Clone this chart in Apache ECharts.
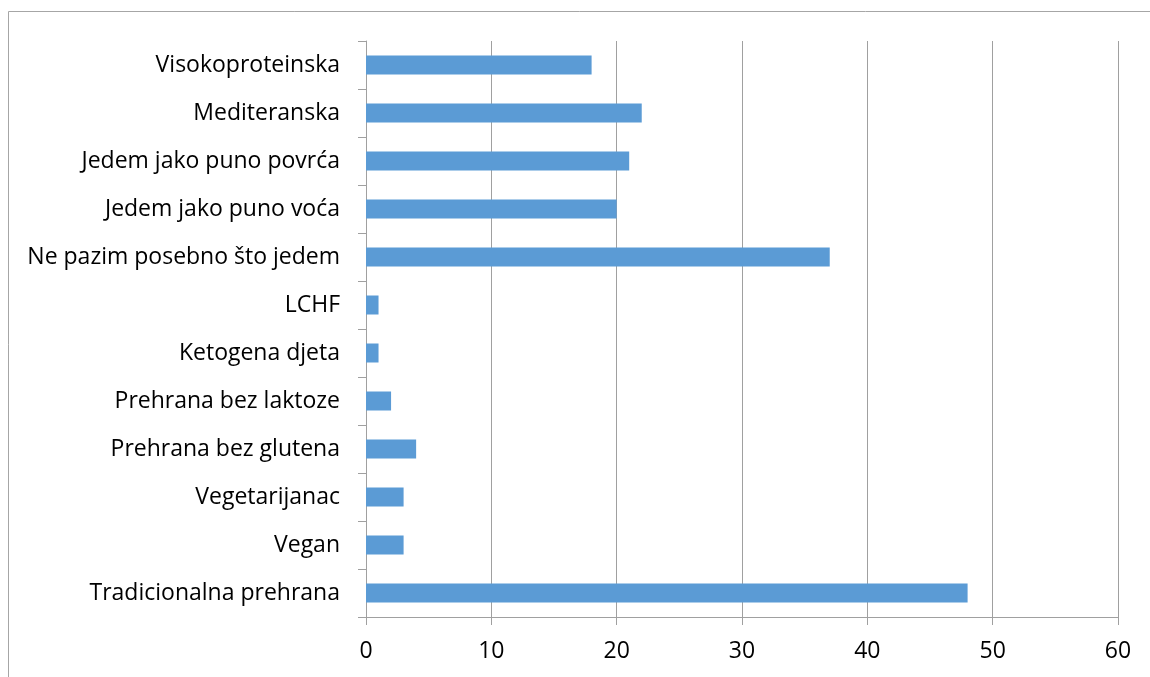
<!DOCTYPE html>
<html><head><meta charset="utf-8">
<script src="https://cdn.jsdelivr.net/npm/echarts@6/dist/echarts.min.js"></script>
<style>html,body{margin:0;padding:0;background:#fff;}#c{width:1150px;height:677px;}</style>
</head><body><div id="c"></div>
<script>
const categories = ["Tradicionalna prehrana","Vegan","Vegetarijanac","Prehrana bez glutena","Prehrana bez laktoze","Ketogena djeta","LCHF","Ne pazim posebno što jedem","Jedem jako puno voća","Jedem jako puno povrća","Mediteranska","Visokoproteinska"];
const values = [48,3,3,4,2,1,1,37,20,21,22,18];
const xTicks = {min:0,max:60,interval:10};
const chart = echarts.init(document.getElementById('c'));
const font = '"Open Sans", sans-serif';
chart.setOption({
  animation:false,
  graphic:[{type:'rect',shape:{x:8.5,y:11.5,width:1160,height:700},style:{fill:'none',stroke:'#a6a6a6',lineWidth:1}}],
  grid:{left:366,right:32,top:41,bottom:60},
  xAxis:{type:'value',min:xTicks.min,max:xTicks.max,interval:xTicks.interval,
    axisLine:{show:true,lineStyle:{color:'#a0a0a0'}},
    axisTick:{show:true,length:8,lineStyle:{color:'#a0a0a0'}},
    splitLine:{show:true,lineStyle:{color:'#a0a0a0'}},
    axisLabel:{color:'#000',fontSize:23,fontFamily:font,margin:23}},
  yAxis:{type:'category',data:categories,
    axisLine:{show:true,lineStyle:{color:'#a0a0a0'}},
    axisTick:{show:true,length:8,lineStyle:{color:'#a0a0a0'}},
    axisLabel:{color:'#000',fontSize:23,fontFamily:font,margin:26}},
  series:[{type:'bar',data:values,barWidth:19,itemStyle:{color:'#5b9bd5'}}]
});
</script></body></html>
